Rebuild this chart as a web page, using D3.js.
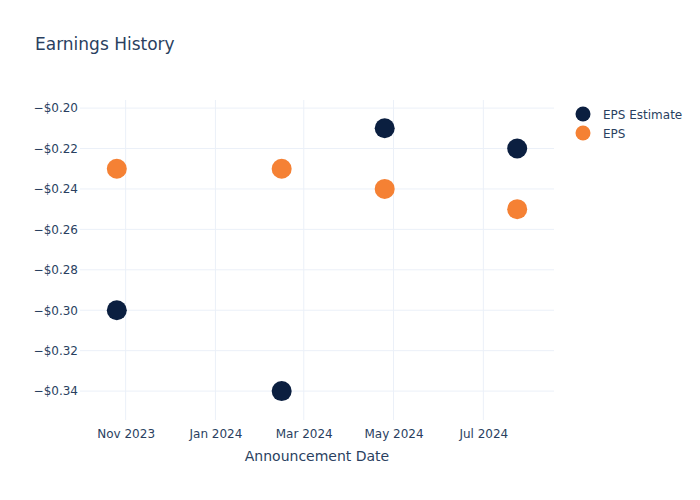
<!DOCTYPE html>
<html>
<head>
<meta charset="utf-8">
<script src="https://cdn.jsdelivr.net/npm/d3@7"></script>
<style>
  body { margin: 0; background: #fff; }
  text { font-family: "DejaVu Sans", sans-serif; fill: #2a3f5f; }
</style>
</head>
<body>
<svg id="chart" width="700" height="500"></svg>
<script>
const dates = ["2023-10-26", "2024-02-15", "2024-04-25", "2024-07-24"];
const epsEstimate = [-0.30, -0.34, -0.21, -0.22];
const eps = [-0.23, -0.23, -0.24, -0.25];
const yTicks = [-0.20, -0.22, -0.24, -0.26, -0.28, -0.30, -0.32, -0.34];
const xTicks = ["2023-11-01", "2024-01-01", "2024-03-01", "2024-05-01", "2024-07-01"];
const seriesNames = ["EPS Estimate", "EPS"];
const colors = ["#0b1f40", "#f58134"];

const parse = d3.utcParse("%Y-%m-%d");
const svg = d3.select("#chart");
const m = {l: 80, r: 146, t: 100, b: 80};
const W = 700, H = 500;

const x = d3.scaleUtc()
  .domain([parse("2023-10-01"), parse("2024-08-18")])
  .range([m.l, W - m.r]);
const y = d3.scaleLinear()
  .domain([-0.3543, -0.196])
  .range([H - m.b, m.t]);

// grid
const g = svg.append("g");
g.selectAll(".vg").data(xTicks).enter().append("line")
  .attr("x1", d => x(parse(d))).attr("x2", d => x(parse(d)))
  .attr("y1", m.t).attr("y2", H - m.b)
  .attr("stroke", "#ebf0f8").attr("stroke-width", 1);
g.selectAll(".hg").data(yTicks).enter().append("line")
  .attr("x1", m.l).attr("x2", W - m.r)
  .attr("y1", d => y(d)).attr("y2", d => y(d))
  .attr("stroke", "#ebf0f8").attr("stroke-width", 1);

// axes
const fmtY = d => "\u2212$" + Math.abs(d).toFixed(2);
const yAxis = d3.axisLeft(y).tickValues(yTicks).tickFormat(fmtY).tickSize(0).tickPadding(2);
const ya = svg.append("g").attr("transform", `translate(${m.l},0)`).call(yAxis);
ya.select(".domain").remove();
ya.selectAll("text").style("font-size", "12px").attr("fill", "#2a3f5f");

const fmtX = d3.utcFormat("%b %Y");
const xAxis = d3.axisBottom(x).tickValues(xTicks.map(parse)).tickFormat(fmtX).tickSize(0).tickPadding(9);
const xa = svg.append("g").attr("transform", `translate(0,${H - m.b})`).call(xAxis);
xa.select(".domain").remove();
xa.selectAll("text").style("font-size", "12px").attr("fill", "#2a3f5f");

svg.append("text").attr("x", (m.l + W - m.r) / 2).attr("y", 461)
  .attr("text-anchor", "middle").style("font-size", "14px").text("Announcement Date");

svg.append("text").attr("x", 35).attr("y", 50).style("font-size", "17px").text("Earnings History");

// points
const series = [epsEstimate, eps];
series.forEach((vals, si) => {
  svg.append("g").selectAll("circle").data(vals).enter().append("circle")
    .attr("cx", (d, i) => x(parse(dates[i])))
    .attr("cy", d => y(d))
    .attr("r", 10)
    .attr("fill", colors[si]);
});

// legend
const lg = svg.append("g");
seriesNames.forEach((n, i) => {
  lg.append("circle").attr("cx", 583).attr("cy", 114 + i * 19).attr("r", 7.5).attr("fill", colors[i]);
  lg.append("text").attr("x", 603).attr("y", 114 + i * 19 + 4.5).style("font-size", "12px").text(n);
});
</script>
</body>
</html>
